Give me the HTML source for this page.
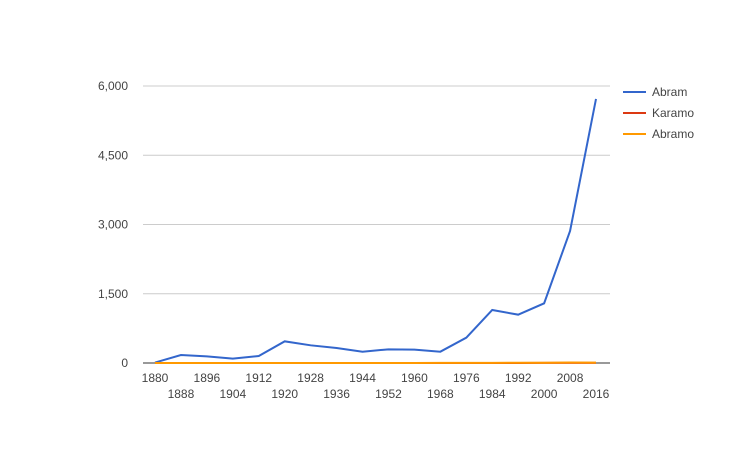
<!DOCTYPE html>
<html><head><meta charset="utf-8"><style>
body{margin:0;background:#fff;font-family:"Liberation Sans",Arial,sans-serif}
svg text{font-family:"Liberation Sans",Arial,sans-serif;font-size:12px;fill:#444}
</style></head><body>
<svg id="c" width="750" height="450"></svg>
<script>
const years=[1880,1888,1896,1904,1912,1920,1928,1936,1944,1952,1960,1968,1976,1984,1992,2000,2008,2016];
const abram=[10,173,144,94,152,469,383,325,245,296,289,245,549,1148,1047,1292,2860,5720];
const karamo=[0,0,0,0,0,0,0,0,0,0,0,0,0,0,0,2,3,3];
const abramo=[0,0,0,0,0,0,0,0,0,0,0,2,3,4,5,6,10,8];
const yTicks=[0,1500,3000,4500,6000];
const xTicks=[1880,1888,1896,1904,1912,1920,1928,1936,1944,1952,1960,1968,1976,1984,1992,2000,2008,2016];
const seriesNames=["Abram","Karamo","Abramo"];
const colors=["#3366cc","#dc3912","#ff9900"];
const NS="http://www.w3.org/2000/svg",svg=document.getElementById('c');
const X=y=>155+(y-1880)*(596-155)/136;
const Y=v=>363-v*(363-86)/6000;
function mk(t,a){const e=document.createElementNS(NS,t);for(const k in a)e.setAttribute(k,a[k]);svg.appendChild(e);return e;}
yTicks.forEach(v=>{
 const g=mk('line',{x1:143,x2:610,y1:Y(v),y2:Y(v),stroke:v?'#ccc':'#333','stroke-width':1});
 
 
 const t=mk('text',{x:128,y:Y(v)+4,'text-anchor':'end'});t.textContent=v.toLocaleString('en-US');
 
 
});
xTicks.forEach((yr,i)=>{
 const t=mk('text',{x:X(yr),y:i%2?398:382,'text-anchor':'middle'});t.textContent=yr;
 
 
});
[abram,karamo,abramo].forEach((d,si)=>{
 const p=mk('polyline',{points:d.map((v,i)=>X(years[i])+','+Y(v)).join(' '),fill:'none',stroke:colors[si],'stroke-width':2});
 
 
});
seriesNames.forEach((n,i)=>{
 const yy=92+i*21;
 const l=mk('line',{x1:623,x2:646,y1:yy,y2:yy,stroke:colors[i],'stroke-width':2});
 
 
 const t=mk('text',{x:652,y:yy+4});t.textContent=n;
 
 
});
</script>
</body></html>
